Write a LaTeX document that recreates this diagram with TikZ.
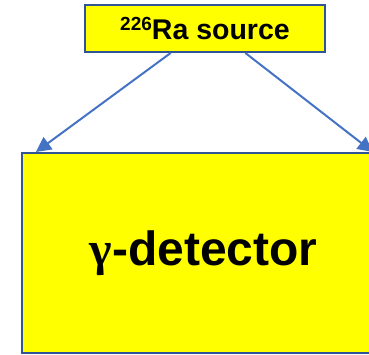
\documentclass[tikz,border=0pt]{standalone}
\usepackage{fontspec}
\setmainfont{Liberation Sans}
\newfontfamily\greekfont{Liberation Serif}
\usepackage{xcolor}
\usetikzlibrary{calc, arrows.meta}
\definecolor{boxyellow}{RGB}{255,255,0}
\definecolor{boxedge}{RGB}{47,85,151}
\definecolor{arrowblue}{RGB}{68,114,196}

\begin{document}
\begin{tikzpicture}[x=1pt, y=-1pt, >={Triangle[length=15pt, width=15pt]},
    box/.style={draw=boxedge, fill=boxyellow, line width=2pt, inner sep=0pt},
    ray/.style={->, draw=arrowblue, fill=arrowblue, line width=2pt}]
    \useasboundingbox (0,0) rectangle (369,355);
    % Quelle und Detektor
    \node[box, minimum width=240pt, minimum height=47pt,
        font=\bfseries\fontsize{28.5}{28.5}\selectfont] (source) at (205,28.5)
        {\raisebox{9.5pt}{\fontsize{19}{19}\selectfont 226}Ra source};
    \node[box, minimum width=363pt, minimum height=200pt,
        font=\bfseries\fontsize{48}{48}\selectfont] (detector) at (203.5,253)
        {{\greekfont γ}-detector};
    
    % Strahlen
    \draw[ray] ($(source.south west)!0.358!(source.south east)$)
        -- ($(detector.north west)!0.041!(detector.north east)$);
    \draw[ray] ($(source.south west)!0.667!(source.south east)$)
        -- ($(detector.north west)!0.964!(detector.north east)$);
\end{tikzpicture}
\end{document}
